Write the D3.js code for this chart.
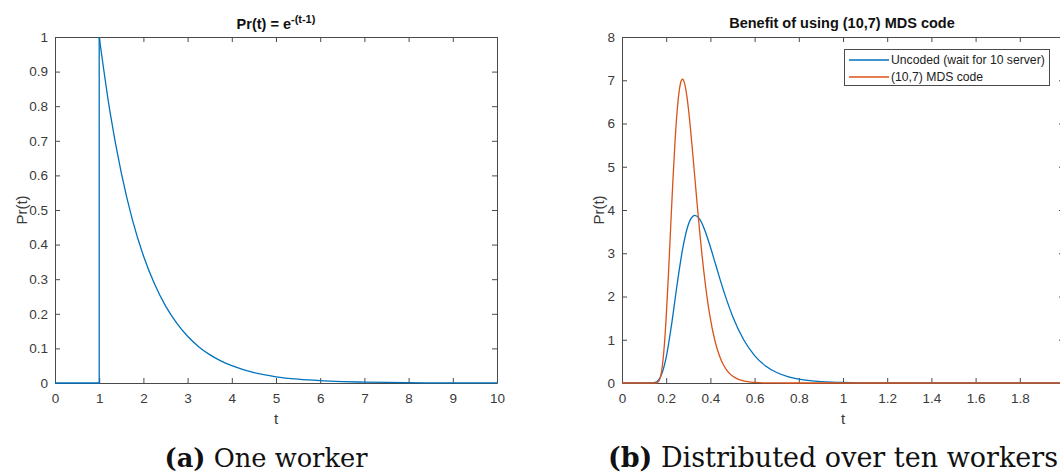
<!DOCTYPE html>
<html>
<head>
<meta charset="utf-8">
<script src="https://cdn.jsdelivr.net/npm/d3@7"></script>
<style>
  html, body { margin: 0; padding: 0; background: #fff; }
  svg { display: block; }
</style>
</head>
<body>
<svg id="chart" width="1060" height="473"></svg>
<script>
// ---------- data ----------
// Left panel: one worker
const leftStepT = [0, 1, 1];
const leftStepP = [0, 0, 1];
const leftT = [1, 1.25, 1.5, 1.75, 2, 2.25, 2.5, 2.75, 3, 3.25, 3.5, 3.75, 4, 4.5, 5, 5.5, 6, 6.5, 7, 8, 9, 10];
const leftP = [1, 0.779, 0.607, 0.472, 0.368, 0.287, 0.223, 0.174, 0.135, 0.105, 0.082, 0.064, 0.050, 0.030, 0.018, 0.011, 0.0067, 0.0041, 0.0025, 0.0009, 0.0003, 0.0001];
const leftXTicks = [0, 1, 2, 3, 4, 5, 6, 7, 8, 9, 10];
const leftYTicks = [0, 0.1, 0.2, 0.3, 0.4, 0.5, 0.6, 0.7, 0.8, 0.9, 1];

// Right panel: ten workers
const uncodedT = [0, 0.1, 0.125, 0.15, 0.175, 0.2, 0.225, 0.25, 0.275, 0.3, 0.325, 0.33, 0.35, 0.375, 0.4, 0.425, 0.45, 0.475, 0.5, 0.55, 0.6, 0.65, 0.7, 0.75, 0.8, 0.85, 0.9, 0.95, 1.0, 1.1, 1.2, 1.4, 2];
const uncodedP = [0, 0, 0, 0.014, 0.150, 0.593, 1.373, 2.300, 3.116, 3.658, 3.868, 3.874, 3.798, 3.528, 3.144, 2.716, 2.291, 1.898, 1.551, 1.005, 0.634, 0.394, 0.242, 0.148, 0.090, 0.055, 0.033, 0.020, 0.012, 0.0045, 0.0017, 0.0002, 0];
const mdsT = [0, 0.143, 0.15, 0.16, 0.17, 0.18, 0.19, 0.2, 0.21, 0.22, 0.23, 0.24, 0.25, 0.26, 0.27, 0.274, 0.28, 0.29, 0.3, 0.31, 0.32, 0.33, 0.34, 0.35, 0.36, 0.37, 0.38, 0.39, 0.4, 0.42, 0.44, 0.46, 0.48, 0.5, 0.53, 0.56, 0.6, 0.65, 0.7, 0.8, 2];
const mdsP = [0, 0, 0, 0.008, 0.074, 0.300, 0.773, 1.524, 2.495, 3.578, 4.645, 5.587, 6.317, 6.793, 7.007, 7.023, 6.980, 6.749, 6.366, 5.871, 5.309, 4.724, 4.139, 3.580, 3.060, 2.588, 2.168, 1.801, 1.485, 0.989, 0.643, 0.410, 0.258, 0.160, 0.076, 0.036, 0.013, 0.003, 0.001, 0, 0];
const rightXTicks = [0, 0.2, 0.4, 0.6, 0.8, 1, 1.2, 1.4, 1.6, 1.8, 2];
const rightYTicks = [0, 1, 2, 3, 4, 5, 6, 7, 8];
const legendLabels = ["Uncoded (wait for 10 server)", "(10,7) MDS code"];
const seriesColors = ["#0072BD", "#D95319"];
const captionLabels = ["(a)", "(b)"];
const captionTexts = ["One worker", "Distributed over ten workers"];

// ---------- drawing ----------
const svg = d3.select("#chart");
svg.append("rect").attr("width", 1060).attr("height", 473).attr("fill", "#fff");

const AXIS_COLOR = "#4a4a4a";
const TEXT_COLOR = "#3a3a3a";
const FONT = "'Liberation Sans', Arial, Helvetica, sans-serif";

function drawAxes(g, x, y, xTicks, yTicks, xFmt, yFmt) {
  const [x0, x1] = x.range();
  const [y0, y1] = y.range();
  const tl = 5;
  const bottom = g.append("g").attr("transform", `translate(0,${y0})`)
    .call(d3.axisBottom(x).tickValues(xTicks).tickFormat(xFmt).tickSizeInner(-tl).tickSizeOuter(0).tickPadding(10));
  const left = g.append("g").attr("transform", `translate(${x0},0)`)
    .call(d3.axisLeft(y).tickValues(yTicks).tickFormat(yFmt).tickSizeInner(-tl).tickSizeOuter(0).tickPadding(7));
  const top = g.append("g").attr("transform", `translate(0,${y1})`)
    .call(d3.axisTop(x).tickValues(xTicks).tickFormat("").tickSizeInner(-tl).tickSizeOuter(0));
  const right = g.append("g").attr("transform", `translate(${x1},0)`)
    .call(d3.axisRight(y).tickValues(yTicks).tickFormat("").tickSizeInner(-tl).tickSizeOuter(0));
  [bottom, left, top, right].forEach(a => {
    a.select(".domain").attr("stroke", AXIS_COLOR).attr("stroke-width", 1);
    a.selectAll(".tick line").attr("stroke", AXIS_COLOR).attr("stroke-width", 1);
    a.selectAll(".tick text").attr("fill", TEXT_COLOR).style("font-family", FONT).style("font-size", "13.5px");
  });
}

function fmtNum(d) { return d3.format("~g")(d); }

// Left panel
const xL = d3.scaleLinear().domain([0, 10]).range([55, 497]);
const yL = d3.scaleLinear().domain([0, 1]).range([383, 37]);
const gL = svg.append("g");
drawAxes(gL, xL, yL, leftXTicks, leftYTicks, fmtNum, fmtNum);

const stepLine = d3.line().x(d => xL(d[0])).y(d => yL(d[1])).curve(d3.curveLinear);
gL.append("path").datum(d3.zip(leftStepT, leftStepP))
  .attr("d", stepLine).attr("fill", "none").attr("stroke", seriesColors[0]).attr("stroke-width", 1.3);
const decayLine = d3.line().x(d => xL(d[0])).y(d => yL(d[1])).curve(d3.curveMonotoneX);
gL.append("path").datum(d3.zip(leftT, leftP))
  .attr("d", decayLine).attr("fill", "none").attr("stroke", seriesColors[0]).attr("stroke-width", 1.3);

gL.append("text").attr("x", 276).attr("y", 29).attr("text-anchor", "middle")
  .style("font-family", FONT).style("font-size", "14.5px").style("font-weight", "bold").attr("fill", "#111")
  .call(t => {
    t.append("tspan").text("Pr(t) = e");
    t.append("tspan").attr("dy", -6).style("font-size", "11px").text("-(t-1)");
  });
gL.append("text").attr("x", xL(5)).attr("y", 424).attr("text-anchor", "middle")
  .style("font-family", FONT).style("font-size", "15px").attr("fill", TEXT_COLOR).text("t");
gL.append("text").attr("transform", `translate(27,${(37 + 383) / 2}) rotate(-90)`).attr("text-anchor", "middle")
  .style("font-family", FONT).style("font-size", "15px").attr("fill", TEXT_COLOR).text("Pr(t)");

// Right panel
const xR = d3.scaleLinear().domain([0, 2]).range([622, 1064]);
const yR = d3.scaleLinear().domain([0, 8]).range([383, 37]);
const gR = svg.append("g");
drawAxes(gR, xR, yR, rightXTicks, rightYTicks, fmtNum, fmtNum);

const curveLine = d3.line().x(d => xR(d[0])).y(d => yR(d[1])).curve(d3.curveMonotoneX);
gR.append("path").datum(d3.zip(uncodedT, uncodedP))
  .attr("d", curveLine).attr("fill", "none").attr("stroke", seriesColors[0]).attr("stroke-width", 1.3);
gR.append("path").datum(d3.zip(mdsT, mdsP))
  .attr("d", curveLine).attr("fill", "none").attr("stroke", seriesColors[1]).attr("stroke-width", 1.3);

gR.append("text").attr("x", 842).attr("y", 28).attr("text-anchor", "middle")
  .style("font-family", FONT).style("font-size", "14.5px").style("font-weight", "bold").attr("fill", "#111")
  .text("Benefit of using (10,7) MDS code");
gR.append("text").attr("x", xR(1)).attr("y", 424).attr("text-anchor", "middle")
  .style("font-family", FONT).style("font-size", "15px").attr("fill", TEXT_COLOR).text("t");
gR.append("text").attr("transform", `translate(604,${(37 + 383) / 2}) rotate(-90)`).attr("text-anchor", "middle")
  .style("font-family", FONT).style("font-size", "15px").attr("fill", TEXT_COLOR).text("Pr(t)");

// Legend
const lg = gR.append("g");
lg.append("rect").attr("x", 844.5).attr("y", 49.5).attr("width", 205).attr("height", 36)
  .attr("fill", "#fff").attr("stroke", AXIS_COLOR).attr("stroke-width", 1);
legendLabels.forEach((lab, i) => {
  const yy = 60 + i * 17;
  lg.append("line").attr("x1", 849).attr("x2", 889).attr("y1", yy).attr("y2", yy)
    .attr("stroke", seriesColors[i]).attr("stroke-width", 1.3);
  lg.append("text").attr("x", 891).attr("y", yy + 4)
    .style("font-family", FONT).style("font-size", "12.2px").attr("fill", "#222").text(lab);
});

// Captions
const SERIF = "'DejaVu Serif', 'Liberation Serif', serif";
const capCenters = [266, 833];
const capWidths = [203, 450];
captionLabels.forEach((lab, i) => {
  const t = svg.append("text").attr("x", capCenters[i]).attr("y", 467).attr("text-anchor", "middle")
    .style("font-family", SERIF).style("font-size", "22px").attr("fill", "#111");
  t.append("tspan").style("font-weight", "bold").text(lab);
  t.append("tspan").text(" " + captionTexts[i]);
  const w = t.node().getComputedTextLength();
  t.style("font-size", (22 * capWidths[i] / w).toFixed(2) + "px");
});
</script>
</body>
</html>
